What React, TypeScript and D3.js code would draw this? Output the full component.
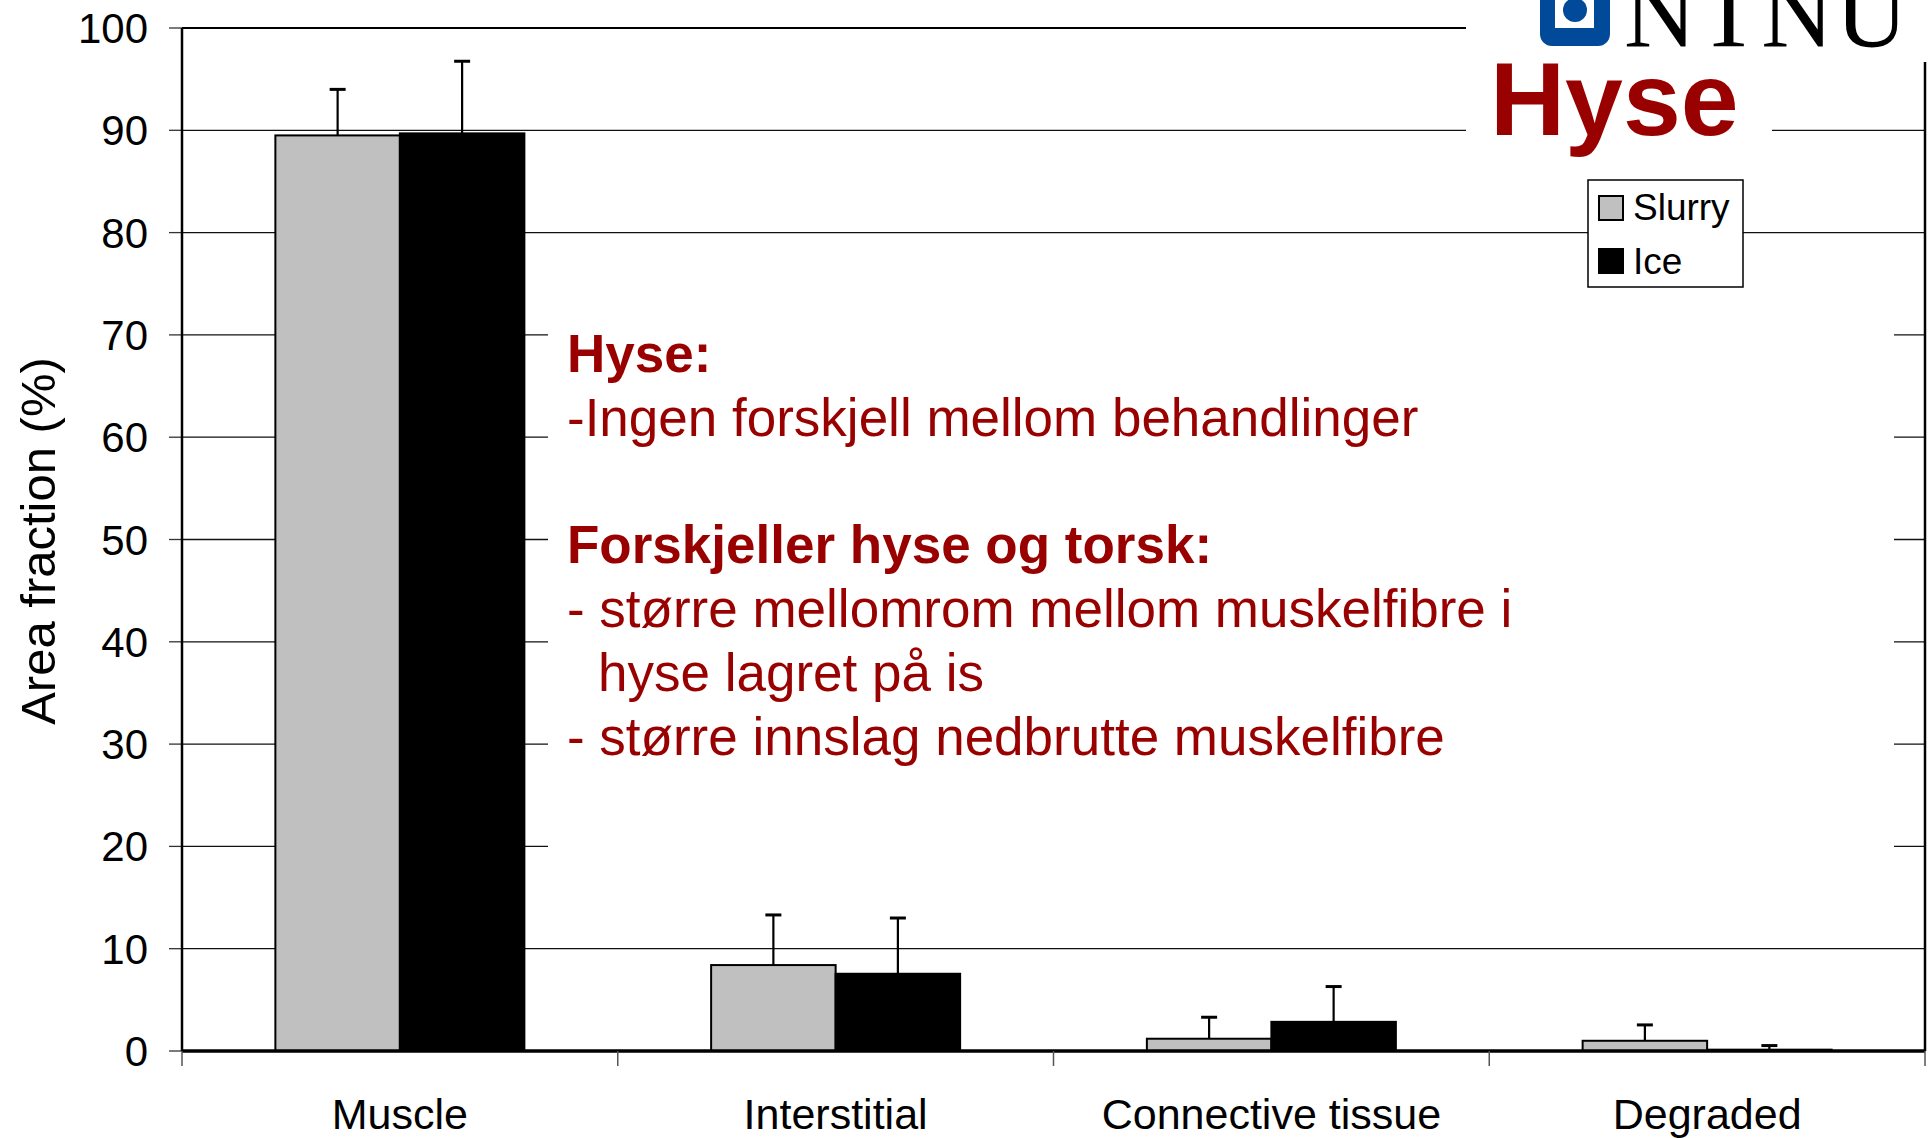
import React from "react";
import * as d3 from "d3";

// Area fraction bar chart (Hyse) with error bars
const categories = ["Muscle", "Interstitial", "Connective tissue", "Degraded"];
const seriesNames = ["Slurry", "Ice"];
const slurryValues = [89.5, 8.4, 1.2, 1.0];
const slurryErrors = [4.5, 4.9, 2.1, 1.55];
const iceValues = [89.7, 7.55, 2.85, 0.13];
const iceErrors = [7.05, 5.45, 3.45, 0.4];
const yTickValues = [0, 10, 20, 30, 40, 50, 60, 70, 80, 90, 100];
const yTitle = "Area fraction (%)";
const chartTitle = "Hyse";
const noteLines = [
  { text: "Hyse:", bold: true, indent: false },
  { text: "-Ingen forskjell mellom behandlinger", bold: false, indent: false },
  { text: "", bold: false, indent: false },
  { text: "Forskjeller hyse og torsk:", bold: true, indent: false },
  { text: "- større mellomrom mellom muskelfibre i", bold: false, indent: false },
  { text: "hyse lagret på is", bold: false, indent: true },
  { text: "- større innslag nedbrutte muskelfibre", bold: false, indent: false },
];

const W = 1932;
const H = 1138;
const left = 182;
const right = 1925;
const top = 28;
const bottom = 1051;
const red = "#990000";
const font = "'Liberation Sans', Arial, sans-serif";

export default function App() {
  const x0 = d3.scaleBand().domain(categories).range([left, right]).padding(0);
  const x1 = d3.scaleBand().domain(seriesNames).range([0, x0.bandwidth()]).paddingInner(0).paddingOuter(0.75);
  const y = d3.scaleLinear().domain([0, 100]).range([bottom, top]);

  const rows = categories.map((c, i) => ({
    cat: c,
    bars: [
      { s: "Slurry", v: slurryValues[i], e: slurryErrors[i], fill: "#c0c0c0" },
      { s: "Ice", v: iceValues[i], e: iceErrors[i], fill: "#000000" },
    ],
  }));

  const boundaries = categories.map((c) => x0(c) as number).concat([right]);

  return (
    <svg width={W} height={H} style={{ position: "absolute", left: 0, top: 0, background: "#fff" }}>
      <rect x={0} y={0} width={W} height={H} fill="#fff" />
      {/* gridlines */}
      {yTickValues.filter((t) => t > 0 && t < 100).map((t) => (
        <line key={t} x1={left} x2={right} y1={y(t)} y2={y(t)} stroke="#111" strokeWidth={1.3} />
      ))}
      {/* plot border top/right */}
      <line x1={left} x2={right} y1={y(100)} y2={y(100)} stroke="#000" strokeWidth={2.2} />
      <line x1={right} x2={right} y1={y(100)} y2={bottom} stroke="#000" strokeWidth={2.5} />
      {/* y ticks */}
      {yTickValues.map((t) => (
        <g key={"yt" + t}>
          <line x1={left - 13} x2={left} y1={y(t)} y2={y(t)} stroke="#333" strokeWidth={1.3} />
          <text x={148} y={y(t) + 15} textAnchor="end" fontFamily={font} fontSize={42} fill="#000">
            {t}
          </text>
        </g>
      ))}
      {/* white covers for annotation box, logo and title */}
      <rect x={548} y={300} width={1894 - 548} height={580} fill="#fff" />
      <rect x={1466} y={0} width={W - 1466} height={62} fill="#fff" />
      <rect x={1466} y={0} width={1772 - 1466} height={152} fill="#fff" />
      {/* bars */}
      {rows.map((r) => (
        <g key={r.cat} transform={`translate(${x0(r.cat)},0)`}>
          {r.bars.map((b) => {
            const bx = x1(b.s) as number;
            const cx = bx + x1.bandwidth() / 2;
            return (
              <g key={b.s}>
                <rect x={bx} y={y(b.v)} width={x1.bandwidth()} height={bottom - y(b.v)} fill={b.fill} stroke="#000" strokeWidth={2} />
                <line x1={cx} x2={cx} y1={y(b.v)} y2={y(b.v + b.e)} stroke="#000" strokeWidth={2.2} />
                <line x1={cx - 8} x2={cx + 8} y1={y(b.v + b.e)} y2={y(b.v + b.e)} stroke="#000" strokeWidth={3} />
              </g>
            );
          })}
        </g>
      ))}
      {/* axes */}
      <line x1={left} x2={left} y1={top} y2={bottom} stroke="#000" strokeWidth={2.5} />
      <line x1={left} x2={right} y1={bottom} y2={bottom} stroke="#000" strokeWidth={3.5} />
      {boundaries.map((bx, i) => (
        <line key={"xt" + i} x1={bx} x2={bx} y1={bottom} y2={bottom + 15} stroke="#555" strokeWidth={1.5} />
      ))}
      {categories.map((c) => (
        <text key={c} x={(x0(c) as number) + x0.bandwidth() / 2} y={1129} textAnchor="middle" fontFamily={font} fontSize={43} fill="#000">
          {c}
        </text>
      ))}
      <text transform="translate(55,541) rotate(-90)" textAnchor="middle" fontFamily={font} fontSize={49} fill="#000">
        {yTitle}
      </text>
      {/* annotation */}
      {noteLines.map((l, i) => (
        <text key={"n" + i} x={l.indent ? 598 : 567} y={372 + i * 63.8} fontFamily={font} fontSize={53} fontWeight={l.bold ? "bold" : "normal"} fill={red}>
          {l.text}
        </text>
      ))}
      {/* NTNU logo */}
      <rect x={1540} y={-20} width={70} height={66} rx={12} fill="#004a99" />
      <rect x={1555} y={-10} width={39} height={38} fill="#fff" />
      <circle cx={1575} cy={10} r={12} fill="#004a99" />
      <text x={1624} y={46} fontFamily="'Liberation Serif', 'Times New Roman', serif" fontSize={100} letterSpacing={2} fill="#000">
        NTNU
      </text>
      <text x={1490} y={135} fontFamily={font} fontSize={104} fontWeight="bold" fill={red}>
        {chartTitle}
      </text>
      {/* legend */}
      <rect x={1588} y={180} width={155} height={107} fill="#fff" stroke="#000" strokeWidth={1.5} />
      {seriesNames.map((s, i) => (
        <g key={s}>
          <rect x={1599} y={196 + i * 53} width={24} height={24} fill={i === 0 ? "#c0c0c0" : "#000"} stroke="#000" strokeWidth={2} />
          <text x={1633} y={220 + i * 54} fontFamily={font} fontSize={37} fill="#000">
            {s}
          </text>
        </g>
      ))}
    </svg>
  );
}
